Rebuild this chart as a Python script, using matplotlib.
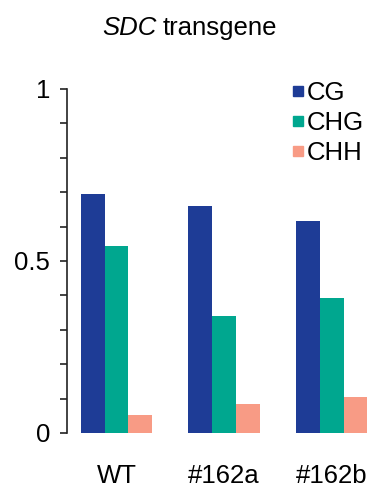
import matplotlib
matplotlib.use('Agg')
import matplotlib.pyplot as plt
from matplotlib.lines import Line2D
import numpy as np

plt.rcParams['font.family'] = ['Liberation Sans', 'DejaVu Sans']

# data
samples = ['WT', '#162a', '#162b']
contexts = ['CG', 'CHG', 'CHH']
cg = [0.694, 0.660, 0.617]
chg = [0.544, 0.340, 0.392]
chh = [0.051, 0.085, 0.106]
colors = {'CG': '#1E3C96', 'CHG': '#00A78F', 'CHH': '#F89B85'}

W, H = 370, 491
FS = 18.5
fig = plt.figure(figsize=(W / 100, H / 100), dpi=100)
ax = fig.add_axes([67 / W, 58 / H, 303 / W, 344 / H])

x = np.arange(len(samples))
w = 0.223
for off, (name, vals) in zip([-1, 0, 1], [('CG', cg), ('CHG', chg), ('CHH', chh)]):
    ax.bar(x + off * w, vals, width=w, color=colors[name], linewidth=0)

ax.set_xlim(-0.4605, 2.358)
ax.set_ylim(0, 1)
yt = np.arange(0, 1.01, 0.1)
ax.set_yticks(yt)
ax.set_yticklabels([{0: '0', 5: '0.5', 10: '1'}.get(int(round(t * 10)), '') for t in yt])
ax.set_xticks(x)
ax.set_xticklabels(samples)
ax.tick_params(axis='y', length=5, width=1.2, labelsize=FS, pad=7, color='#222222')
ax.tick_params(axis='x', length=0, labelsize=FS, pad=22)
for s in ['top', 'right', 'bottom']:
    ax.spines[s].set_visible(False)
ax.spines['left'].set_linewidth(1.2)
ax.spines['left'].set_color('#222222')

handles = [Line2D([], [], marker='s', ls='', color=colors[c], markersize=7) for c in contexts]
fig.legend(handles, contexts, loc='upper left', bbox_to_anchor=(290 / W, 1 - 81 / H),
           frameon=False, fontsize=FS, handletextpad=0.05, handlelength=0.6,
           labelspacing=0.23, borderpad=0, borderaxespad=0)

fig.text(157 / W, 1 - 35 / H, 'SDC', style='italic', fontsize=FS, ha='right', va='baseline')
fig.text(163 / W, 1 - 35 / H, 'transgene', fontsize=FS, ha='left', va='baseline')

fig.savefig('out.png', dpi=100)
